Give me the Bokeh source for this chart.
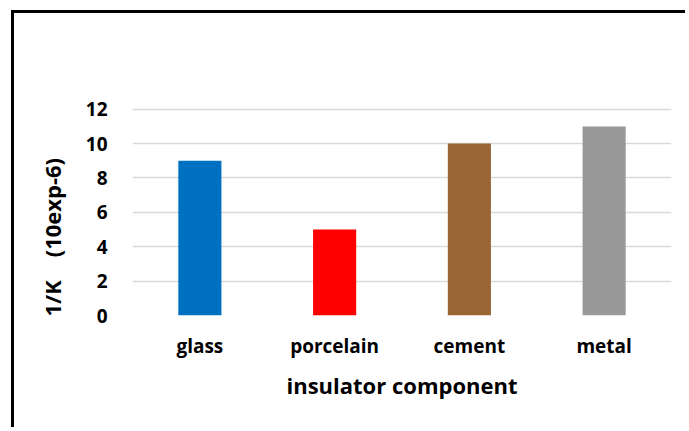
from bokeh.plotting import figure
from bokeh.models import ColumnDataSource, Range1d, FactorRange, FixedTicker
from bokeh.embed import file_html
from bokeh.resources import INLINE

categories = ["glass", "porcelain", "cement", "metal"]
values = [9, 5, 10, 11]
colors = ["#0070C0", "#FF0000", "#996633", "#999999"]
y_ticks = [0, 2, 4, 6, 8, 10, 12]
x_title = "insulator component"
y_title = "1/K\u00a0\u00a0\u00a0\u00a0(10exp-6)"

FONT = "Open Sans"

source = ColumnDataSource(data=dict(cat=categories, val=values, color=colors))

p = figure(
    width=674, height=417,
    x_range=FactorRange(*categories, range_padding=0),
    y_range=Range1d(0, 12.1),
    output_backend="svg", toolbar_location=None,
    min_border_left=118, min_border_right=17, min_border_top=94, min_border_bottom=115,
)
p.styles = {"border-left": "3px solid black", "border-top": "3px solid black",
            "margin-left": "11px", "margin-top": "10px"}
p.outline_line_color = None
p.background_fill_color = "white"
p.border_fill_color = "white"

p.vbar(x="cat", top="val", width=0.32, fill_color="color", line_color=None, source=source)

for ax in (p.xaxis[0], p.yaxis[0]):
    ax.axis_line_color = None
    ax.major_tick_line_color = None
    ax.minor_tick_line_color = None
    ax.major_tick_in = 0
    ax.major_tick_out = 0
    ax.major_label_text_font = FONT
    ax.major_label_text_font_style = "bold"
    ax.major_label_text_font_size = "19px"
    ax.major_label_text_color = "black"
    ax.axis_label_text_font = FONT
    ax.axis_label_text_font_style = "bold"
    ax.axis_label_text_font_size = "22px"
    ax.axis_label_text_color = "black"

p.yaxis.ticker = FixedTicker(ticks=y_ticks)
p.yaxis.major_label_standoff = 25
p.xaxis.major_label_standoff = 17
p.xaxis.axis_label = x_title
p.xaxis.axis_label_standoff = 8

# trailing no-break spaces shift the title's visible text below the frame centre, as in the original
p.yaxis.axis_label = y_title + "\u00a0" * 9
p.yaxis.axis_label_standoff = 16

p.xgrid.grid_line_color = None
p.ygrid.ticker = FixedTicker(ticks=y_ticks)
p.ygrid.grid_line_color = "#D9D9D9"
p.ygrid.grid_line_width = 1.5

open("out.html", "w").write(file_html(p, INLINE))
